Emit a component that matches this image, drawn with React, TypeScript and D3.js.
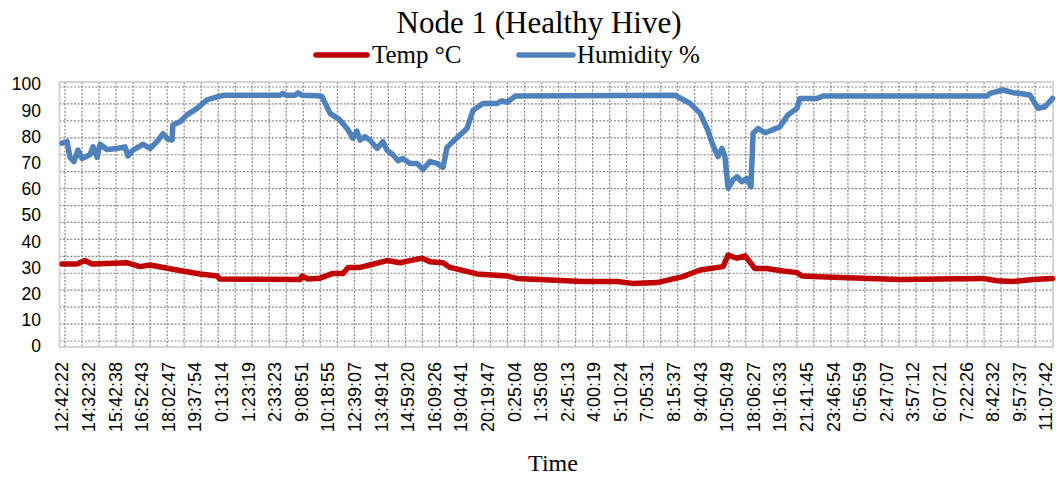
import React from "react";
import * as d3 from "d3";

// Category (time) labels shown on the x axis, one every 10 readings
const timeLabels: string[] = [
  "12:42:22", "14:32:32", "15:42:38", "16:52:43", "18:02:47", "19:37:54", "0:13:14", "1:23:19",
  "2:33:23", "9:08:51", "10:18:55", "12:39:07", "13:49:14", "14:59:20", "16:09:26", "19:04:41",
  "20:19:47", "0:25:04", "1:35:08", "2:45:13", "4:00:19", "5:10:24", "7:05:31", "8:15:37",
  "9:40:43", "10:50:49", "18:06:27", "19:16:33", "21:41:45", "23:46:54", "0:56:59", "2:47:07",
  "3:57:12", "6:07:21", "7:22:26", "8:42:32", "9:57:37", "11:07:42",
];
const labelEvery = 10;
const lastReading = 372.5;

const yTicks: number[] = [0, 10, 20, 30, 40, 50, 60, 70, 80, 90, 100];

// [reading index, value]
const humidity: [number, number][] = [
  [0, 77.4], [1.9, 78], [3, 72], [4.5, 70.4], [6, 74.8], [7.5, 71.6], [10.5, 73], [11.7, 76],
  [13.2, 72], [14.3, 77], [16.9, 75], [20.7, 75.4], [23.7, 76], [24.8, 72.5], [26.7, 74.8],
  [30.5, 77], [33.1, 75.4], [35.7, 78], [38, 81], [39.9, 78.9], [41.4, 78.6], [41.7, 84.4],
  [44.4, 85.6], [47, 88.2], [50.8, 90.7], [54.5, 93.9], [58.7, 95.2], [61.3, 95.7], [82, 95.7],
  [83.1, 96.4], [84.2, 95.7], [87.6, 95.7], [88.8, 96.6], [90.3, 95.7], [95.9, 95.5], [97.8, 95.2],
  [100.8, 88.8], [104.5, 86.3], [107.2, 83], [108.3, 81.2], [109.4, 79.3], [110.9, 82], [112.1, 78.6],
  [113.9, 79.9], [115.8, 78.6], [118.5, 75.4], [120.7, 78], [122.2, 74.8], [124.5, 72.9], [126.4, 70.7],
  [128.2, 71.6], [130.9, 69.7], [133.5, 69.7], [135.8, 67.4], [138.4, 70.4], [141, 69.7], [143.3, 68.2],
  [144.8, 75.8], [147, 78], [149.7, 80.5], [152.3, 83], [154.6, 90], [158.3, 92.6], [163.6, 92.6],
  [165.5, 93.6], [167.4, 93], [170.4, 95.4], [230.5, 95.7], [233.5, 94.1], [236.2, 92.6], [240, 88.8],
  [242.6, 83], [244.8, 76.7], [246.7, 72.3], [248.2, 75.4], [249.3, 72.3], [250.5, 60.2], [252.4, 63.4],
  [253.9, 64.6], [255.7, 62.7], [257.6, 64], [259.1, 60.8], [259.9, 81.2], [261.8, 83], [264.4, 81.4],
  [267, 82.4], [270, 83.7], [273, 88.2], [276.4, 90.7], [277.5, 94.5], [284, 94.5], [286.2, 95.4],
  [347.9, 95.4], [349, 96.4], [353.9, 97.7], [357.6, 96.7], [360.3, 96.4], [364, 95.8], [367.1, 90.7],
  [369.7, 91.3], [372.5, 94.5],
];

const temperature: [number, number][] = [
  [0, 31.3], [5.6, 31.3], [8.6, 32.6], [11.3, 31.3], [24.4, 31.8], [29.3, 30.3], [33.1, 30.9],
  [43.2, 29], [51.9, 27.5], [58.3, 26.7], [59.4, 25.6], [89.5, 25.4], [90.3, 26.7], [92.5, 25.6],
  [97, 25.9], [101.9, 27.7], [105.7, 27.7], [107.6, 30], [112.1, 30], [115.8, 30.9], [122.2, 32.6],
  [127.1, 31.8], [130.9, 32.6], [135.4, 33.5], [138.4, 32.2], [143.3, 31.8], [145.9, 30], [156.1, 27.5],
  [167.4, 26.7], [171.1, 25.8], [183.5, 25.2], [195.9, 24.6], [208.7, 24.6], [214.7, 23.9], [223.8, 24.2],
  [233.5, 26.5], [240, 29], [248.6, 30.3], [250.5, 34.7], [253.9, 33.5], [256.9, 34.4], [260.6, 29.6],
  [265.1, 29.6], [271.2, 28.6], [276.4, 28], [278.3, 26.7], [289.9, 26.2], [315.1, 25.4], [346.4, 25.8],
  [351.6, 24.9], [357.6, 24.6], [365.2, 25.4], [372.5, 25.8],
];

const W = 1056;
const H = 477;
const plot = { left: 59.5, top: 82, right: 1053, bottom: 347 };
const RED = "#C00000";
const BLUE = "#4F81BD";
const sans = "'Liberation Sans', Arial, sans-serif";
const serif = "'Liberation Serif', 'Times New Roman', serif";

export default function App() {
  const x = d3.scaleLinear().domain([0, lastReading]).range([62, 1052.5]);
  const y = d3.scaleLinear().domain([0, 100]).range([346, 84]);
  const line = d3
    .line<[number, number]>()
    .x((d) => x(d[0]))
    .y((d) => y(d[1]));

  const hGrid = d3.range(16).map((i) => plot.bottom - 6 - (i * (plot.bottom - plot.top - 11)) / 15);
  const vGrid = d3.range(58).map((i) => plot.left + 5.5 + i * 17.02);

  return (
    <svg width={W} height={H} style={{ position: "absolute", left: 0, top: 0, background: "#fff" }}>
      <rect x={0} y={0} width={W} height={H} fill="#fff" />
      {/* grid */}
      <g stroke="#858585" strokeWidth={1.2} strokeDasharray="2 1.6">
        {hGrid.map((gy, i) => (
          <line key={"h" + i} x1={plot.left} x2={plot.right} y1={gy} y2={gy} />
        ))}
        {vGrid.map((gx, i) => (
          <line key={"v" + i} x1={gx} x2={gx} y1={plot.top} y2={plot.bottom} />
        ))}
      </g>
      <rect
        x={plot.left}
        y={plot.top}
        width={plot.right - plot.left}
        height={plot.bottom - plot.top}
        fill="none"
        stroke="#d0d0d0"
        strokeWidth={1.8}
      />
      {/* y tick labels */}
      {yTicks.map((t) => (
        <text key={t} x={41} y={y(t)} dy="0.36em" textAnchor="end" fontFamily={sans} fontSize={17.5} fill="#000">
          {t}
        </text>
      ))}
      {/* x tick labels */}
      {timeLabels.map((lab, i) => {
        const px = x(i * labelEvery);
        return (
          <text
            key={i}
            transform={`translate(${px},362) rotate(-90)`}
            dy="0.36em"
            textAnchor="end"
            fontFamily={sans}
            fontSize={18}
            fill="#000"
          >
            {lab}
          </text>
        );
      })}
      {/* series */}
      <path d={line(humidity) || ""} fill="none" stroke={BLUE} strokeWidth={5.5} strokeLinejoin="round" strokeLinecap="round" />
      <path d={line(temperature) || ""} fill="none" stroke={RED} strokeWidth={5.5} strokeLinejoin="round" strokeLinecap="round" />
      {/* title */}
      <text x={539} y={33} textAnchor="middle" fontFamily={serif} fontSize={31} fill="#000">
        Node 1 (Healthy Hive)
      </text>
      {/* legend */}
      <line x1={316} x2={367} y1={55} y2={55} stroke={RED} strokeWidth={5.5} strokeLinecap="round" />
      <text x={372} y={63} fontFamily={serif} fontSize={25} fill="#000">
        Temp °C
      </text>
      <line x1={519} x2={573} y1={55} y2={55} stroke={BLUE} strokeWidth={5.5} strokeLinecap="round" />
      <text x={577} y={63} fontFamily={serif} fontSize={25} fill="#000">
        Humidity %
      </text>
      {/* x axis title */}
      <text x={553} y={471} textAnchor="middle" fontFamily={serif} fontSize={24} fill="#000">
        Time
      </text>
    </svg>
  );
}
